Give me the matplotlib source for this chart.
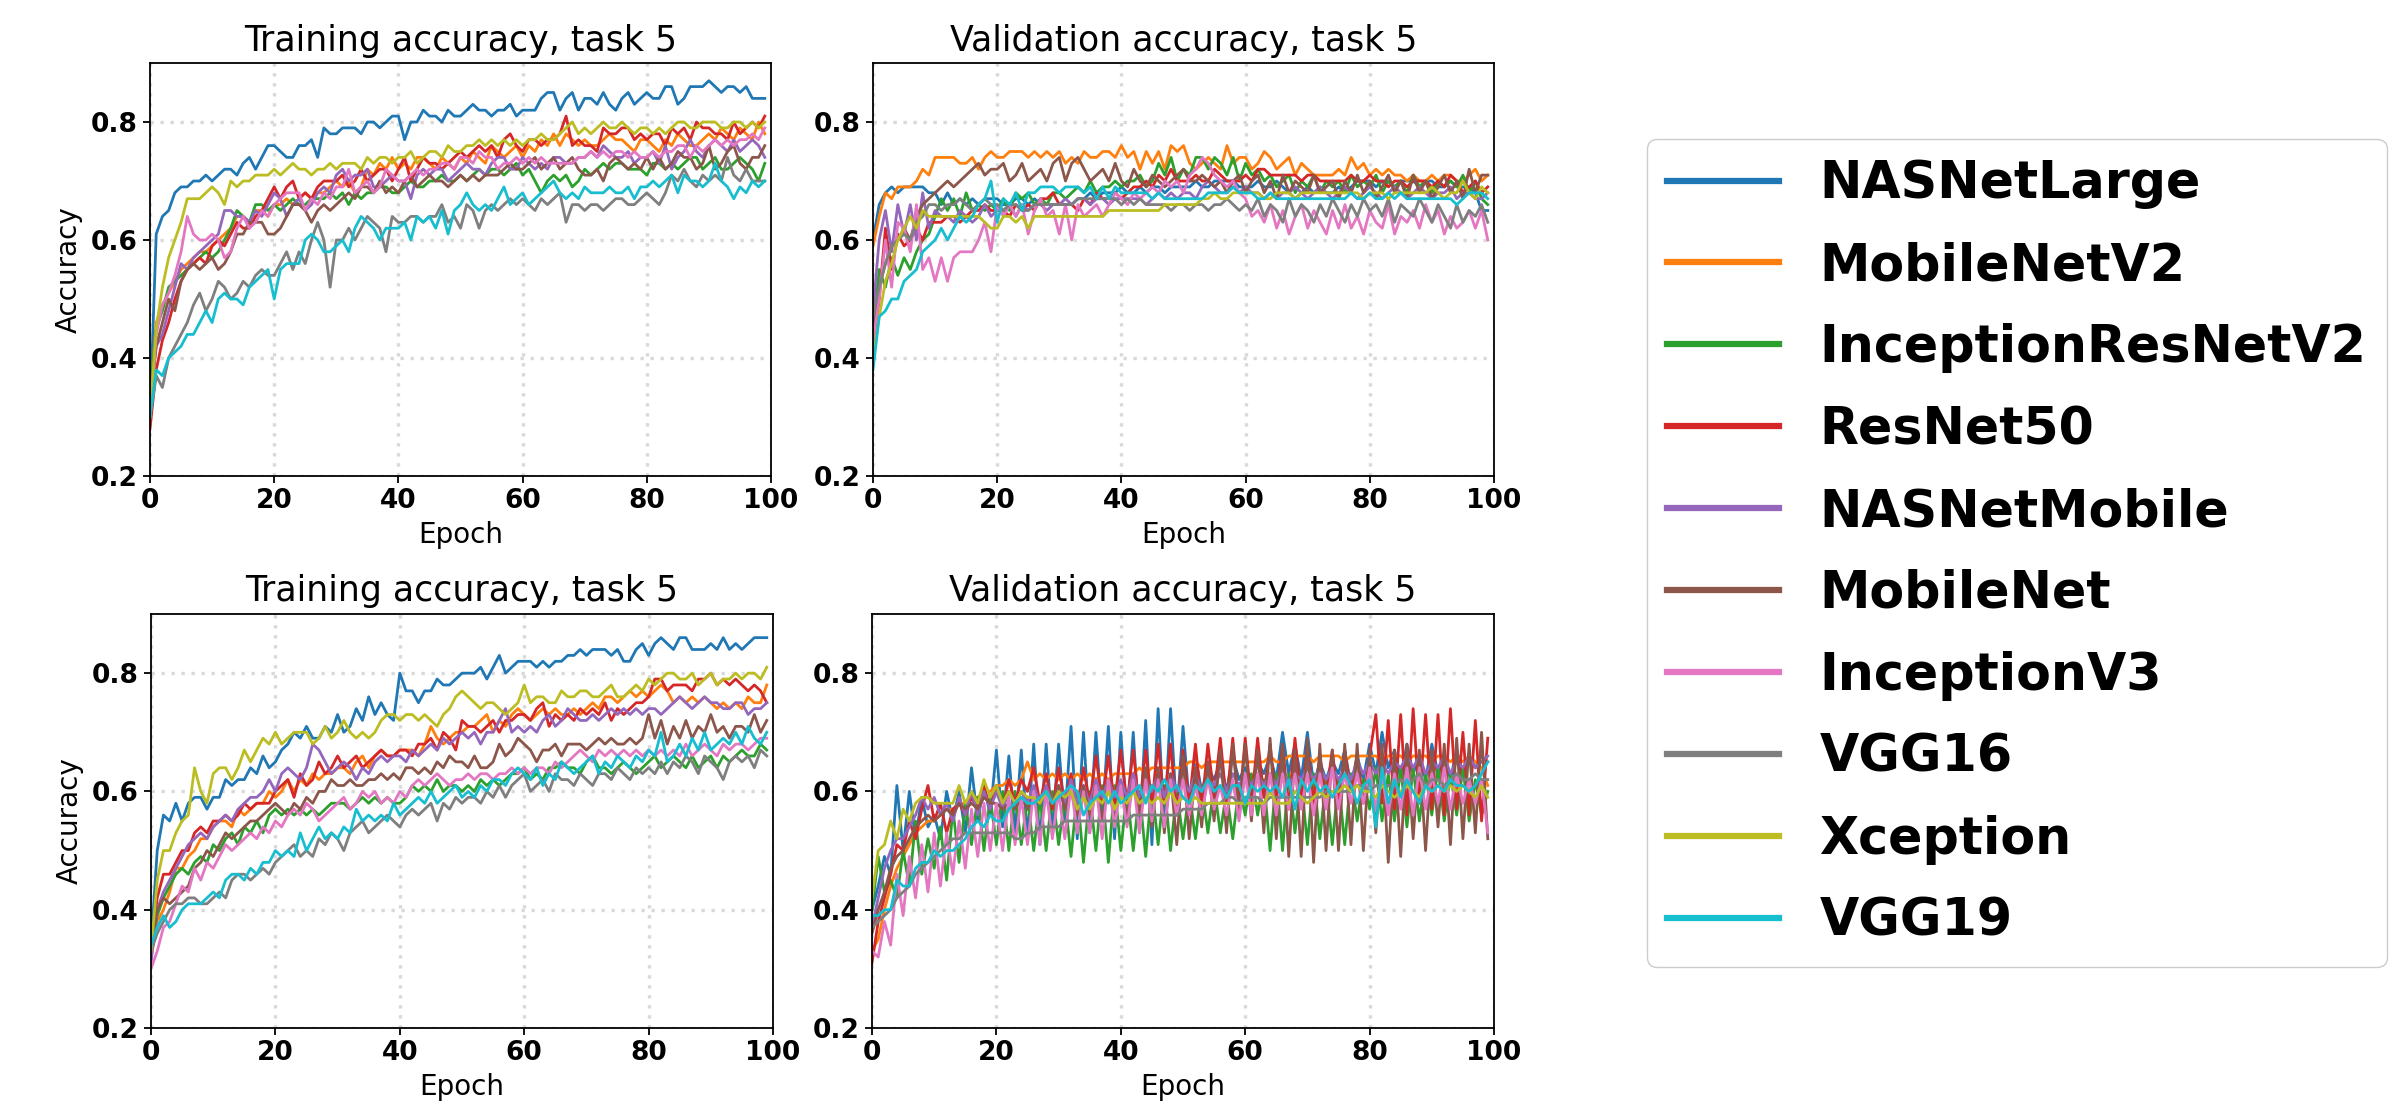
import numpy as np
import matplotlib
matplotlib.use("Agg")
import matplotlib.pyplot as plt

# ---------------- data (accuracy in percent, one value per epoch) ----------------
models = ["NASNetLarge", "MobileNetV2", "InceptionResNetV2", "ResNet50", "NASNetMobile",
          "MobileNet", "InceptionV3", "VGG16", "Xception", "VGG19"]
colors = ["#1f77b4", "#ff7f0e", "#2ca02c", "#d62728", "#9467bd",
          "#8c564b", "#e377c2", "#7f7f7f", "#bcbd22", "#17becf"]
titles = ["Training accuracy, task 5", "Validation accuracy, task 5",
          "Training accuracy, task 5", "Validation accuracy, task 5"]
yticks = [0.2, 0.4, 0.6, 0.8]
xticks = [0, 20, 40, 60, 80, 100]

# ---- panel 1: training (top) ----
t1_nasnetlarge = [30,61,64,65,68,69,69,70,70,71,70,71,72,72,71,73,74,72,74,76,
                  76,75,74,74,76,76,77,74,79,78,78,79,79,79,78,80,80,79,80,81,
                  81,77,80,80,82,81,81,80,82,81,81,82,83,82,82,81,82,82,83,81,
                  82,82,82,84,85,85,82,84,85,82,84,84,83,85,83,82,84,85,83,84,
                  85,84,84,86,86,83,84,86,86,86,87,86,85,86,86,85,86,84,84,84]
t1_mobilenetv2 = [33,46,49,51,53,55,56,57,58,58,59,60,61,62,64,64,63,65,65,64,
                  66,66,67,66,67,68,67,68,68,69,70,69,70,68,69,72,71,73,72,74,
                  72,73,72,74,74,73,72,74,73,72,74,73,75,74,73,76,75,74,75,76,
                  74,76,75,77,76,78,76,78,77,76,77,76,76,77,78,77,77,76,75,77,
                  77,76,75,77,76,78,77,76,76,77,78,77,79,78,77,79,78,77,80,78]
t1_incresv2 = [34,45,48,52,53,54,55,56,57,58,57,58,60,62,65,64,63,66,66,65,
               66,65,66,67,66,66,67,67,67,68,67,68,66,68,67,68,68,69,69,68,
               68,69,70,69,69,70,70,71,70,70,71,70,71,72,71,72,72,71,72,73,
               71,72,70,68,70,71,70,71,69,70,72,71,72,73,72,73,73,72,72,72,
               71,73,73,72,73,72,73,74,74,72,73,74,72,72,73,74,73,72,70,73]
t1_resnet50 = [28,38,43,46,50,53,55,56,57,56,59,60,59,61,63,62,62,64,65,67,
               69,67,69,70,67,68,67,69,70,70,70,71,69,70,72,70,71,72,72,70,
               72,74,70,72,74,73,73,72,73,74,75,74,75,76,75,76,74,77,78,76,
               75,77,77,76,77,77,78,81,76,77,76,76,75,79,78,78,79,79,77,78,
               77,78,78,76,79,78,79,77,80,79,79,78,78,77,80,78,79,80,79,81]
t1_nasnetmobile = [32,42,44,48,52,56,55,57,58,59,60,61,65,65,64,64,63,65,64,66,
                   68,67,64,66,67,65,66,68,69,68,71,72,70,71,71,72,69,69,70,71,
                   70,70,67,71,72,71,72,72,70,71,72,73,72,72,71,73,74,74,72,72,
                   74,73,72,73,72,74,74,73,73,74,74,75,74,76,75,74,74,75,73,74,
                   74,75,73,76,72,74,75,77,75,74,76,77,76,75,77,75,76,77,76,74]
t1_mobilenet = [33,42,46,50,48,53,55,56,55,56,57,55,56,58,61,61,63,63,63,61,
                61,62,64,66,66,65,63,65,66,65,66,67,68,67,69,69,68,70,68,69,
                68,70,71,69,70,71,70,70,69,70,71,70,71,70,71,71,71,72,73,72,
                72,73,74,72,73,74,72,73,74,72,71,71,72,70,73,74,73,72,73,72,
                74,72,74,72,73,75,74,74,72,73,76,72,73,75,76,73,72,74,74,76]
t1_inceptionv3 = [30,44,49,51,54,58,64,61,60,60,61,60,57,58,62,64,62,63,65,64,
                  66,67,68,68,68,65,67,66,68,67,69,69,72,68,69,70,68,69,72,71,
                  70,70,71,72,71,72,72,73,73,72,74,74,73,75,74,74,72,73,73,74,
                  73,74,73,74,73,73,73,73,73,74,74,75,74,75,74,75,75,74,75,74,
                  74,75,74,75,75,76,76,74,76,75,76,77,76,77,76,77,77,78,77,79]
t1_vgg16 = [30,37,35,40,42,44,46,49,51,48,50,53,52,50,51,53,52,54,55,54,
            54,56,58,55,58,56,60,63,60,52,60,60,62,60,62,64,63,62,58,64,
            63,63,64,64,63,64,64,66,63,64,62,66,65,62,65,66,65,66,67,66,
            67,66,65,67,66,67,68,63,66,66,65,66,66,65,66,67,67,66,66,67,
            68,67,66,68,71,70,72,70,69,71,70,71,70,74,71,70,72,70,70,70]
t1_xception = [30,45,52,57,60,63,67,67,67,68,69,68,66,70,69,70,70,71,71,71,
               72,71,72,73,72,72,71,72,72,73,72,73,73,73,72,74,73,74,74,73,
               74,74,75,73,74,75,75,74,76,75,75,76,76,77,76,77,76,77,76,77,
               76,77,77,78,77,77,78,79,80,78,79,78,79,80,79,79,80,79,78,79,
               79,78,79,78,79,80,80,79,79,80,80,80,79,79,80,80,79,80,79,80]
t1_vgg19 = [30,38,37,40,41,42,44,44,46,48,46,50,51,50,50,49,52,53,54,55,
            50,55,56,56,56,60,61,60,58,58,59,60,58,62,64,63,62,60,62,62,
            62,63,60,64,63,64,62,65,61,65,66,68,66,65,66,65,67,69,66,67,
            68,66,67,68,69,70,68,67,68,67,69,68,68,68,69,68,68,69,67,69,
            69,70,69,70,71,68,71,70,70,69,70,73,70,69,67,69,68,70,69,70]

# ---- panel 2: validation (top) ----
v1_nasnetlarge = [60,66,68,69,68,69,69,69,69,68,68,66,68,66,67,66,67,66,67,67,
                  67,66,66,67,67,66,67,66,66,66,66,66,66,67,67,68,67,68,68,68,
                  69,68,68,69,68,69,69,68,69,69,69,69,70,69,69,70,70,70,70,69,
                  69,69,70,69,69,70,69,68,67,68,69,68,69,68,68,69,68,69,70,70,
                  70,69,70,70,69,70,70,70,69,70,70,69,69,70,69,69,69,68,65,65]
v1_mobilenetv2 = [59,64,68,67,69,69,69,70,72,71,74,74,74,74,73,73,74,72,74,75,
                  74,74,75,75,75,74,75,74,75,74,75,73,74,73,75,74,74,75,75,74,
                  76,74,75,72,75,73,75,72,76,75,76,73,72,73,74,73,72,76,73,74,
                  74,72,73,75,74,72,73,74,71,73,72,71,71,71,71,72,71,74,72,73,
                  71,72,71,72,71,71,70,71,70,70,71,70,71,71,70,70,71,72,70,71]
v1_incresv2 = [45,55,52,57,54,57,55,58,60,61,64,67,65,67,64,68,65,66,65,66,
               65,67,65,68,67,68,66,67,66,68,68,67,68,69,68,70,68,69,69,70,
               69,70,70,71,69,70,73,71,74,70,72,71,74,74,72,74,73,71,74,70,
               73,71,72,70,71,69,70,71,68,70,69,71,68,70,69,70,68,71,69,70,
               69,71,68,70,69,70,68,71,69,70,68,70,69,70,69,71,68,70,67,66]
v1_resnet50 = [42,50,62,55,61,59,60,62,60,63,63,63,64,64,63,64,65,65,66,65,
               65,65,64,66,65,66,65,67,67,68,66,66,66,65,67,66,68,67,67,68,
               67,68,69,69,70,69,71,70,72,70,70,70,71,70,70,72,71,70,70,70,
               71,70,72,72,71,71,71,71,71,70,71,71,70,70,70,70,70,71,70,70,
               71,70,70,69,70,70,69,70,70,70,69,70,69,71,70,68,69,70,68,69]
v1_nasnetmobile = [48,60,65,58,66,61,66,60,68,62,65,64,64,63,65,64,63,64,66,64,
                   65,65,66,64,66,65,66,66,65,66,66,67,66,67,67,66,67,67,66,67,
                   67,67,67,67,66,67,68,67,68,67,68,68,67,69,70,69,68,68,69,68,
                   69,68,68,67,68,67,68,68,69,68,67,68,69,68,67,68,69,68,67,68,
                   69,68,67,68,69,68,67,68,69,68,67,68,68,69,67,68,68,67,67,68]
v1_mobilenet = [45,52,56,59,60,62,60,64,66,67,68,69,70,69,70,71,72,73,71,72,
                72,73,70,71,73,70,71,72,70,73,74,70,73,74,72,70,71,72,70,73,
                70,69,72,70,69,71,70,69,70,71,72,70,70,71,70,69,70,68,70,71,
                68,70,71,68,70,67,71,68,70,69,68,71,68,69,70,67,70,68,71,68,
                70,67,69,71,68,70,67,71,68,70,67,69,71,68,70,67,72,68,71,71]
v1_inceptionv3 = [43,50,60,52,63,62,58,66,55,57,53,57,53,57,58,58,58,60,63,58,
                  66,64,66,64,66,61,65,67,64,65,61,66,60,66,64,65,66,64,66,68,
                  67,66,68,67,68,69,68,70,69,70,68,71,72,74,73,71,70,69,70,68,
                  67,64,65,63,66,62,65,61,64,66,62,65,63,61,65,62,66,62,64,61,
                  65,63,62,66,61,64,63,65,62,66,63,65,61,64,62,63,65,62,65,60]
v1_vgg16 = [47,52,56,59,60,61,60,63,64,66,66,65,66,66,67,66,65,66,67,66,
            66,65,66,66,65,65,66,66,66,66,66,66,66,67,67,67,67,67,67,67,
            66,67,66,67,66,66,66,66,65,66,66,65,66,66,65,66,66,67,66,65,
            66,65,67,64,66,65,63,67,64,66,65,63,66,64,67,65,63,66,64,67,
            65,66,64,67,63,66,65,64,67,65,63,66,64,62,66,63,65,64,66,63]
v1_xception = [40,47,53,56,60,62,64,62,65,64,64,64,64,64,64,64,64,64,63,62,
               62,64,64,63,64,62,64,64,64,64,64,64,64,64,64,64,64,64,65,65,
               65,65,65,65,65,65,65,66,66,66,66,66,66,67,67,68,67,67,68,68,
               68,68,68,67,67,68,68,68,67,68,68,68,68,68,68,68,68,68,68,67,
               68,68,68,67,68,68,68,68,68,68,69,68,67,68,68,70,68,67,69,68]
v1_vgg19 = [38,47,48,50,50,53,54,55,58,59,60,62,60,62,64,63,64,66,67,70,
            63,67,66,68,65,68,68,69,69,69,68,69,69,69,68,69,67,69,67,69,
            68,68,68,68,68,67,68,67,67,67,67,67,67,67,68,68,68,68,69,68,
            68,68,67,67,68,67,67,67,67,67,67,67,67,67,67,67,67,68,67,67,
            68,67,67,68,67,68,67,67,67,67,67,67,67,67,66,67,68,68,68,67]

# ---- panel 3: training (bottom) ----
t2_nasnetlarge = [34,50,56,55,58,55,58,59,59,57,59,59,62,61,62,62,64,63,66,64,
                  65,67,68,70,69,71,69,69,71,70,73,70,71,74,72,76,73,75,73,72,
                  80,77,77,75,77,77,79,78,78,79,80,80,80,81,79,81,83,80,81,82,
                  82,82,81,82,81,82,82,83,83,84,83,84,84,84,83,84,82,82,84,85,
                  83,85,86,85,84,86,86,84,84,84,85,84,86,84,85,84,85,86,86,86]
t2_mobilenetv2 = [32,38,40,43,47,47,49,50,52,52,54,55,55,54,57,56,57,58,58,60,
                  59,60,62,60,62,61,63,62,63,63,64,64,63,65,66,64,66,67,66,66,
                  67,67,67,66,68,71,69,68,69,70,70,71,71,72,73,70,72,71,73,74,
                  73,72,73,74,73,74,73,73,74,73,74,75,74,76,76,75,76,77,76,77,
                  76,77,78,77,75,76,75,76,75,76,75,74,75,74,75,74,76,75,75,78]
t2_incresv2 = [33,39,42,44,46,47,46,48,49,48,51,50,52,53,51,54,53,55,53,56,
               57,56,57,56,57,56,57,56,57,58,58,58,57,58,59,58,59,58,59,58,
               58,59,61,60,61,60,62,60,61,61,60,61,60,62,61,62,61,62,63,63,
               64,62,63,62,64,64,65,64,64,63,65,66,64,64,63,64,65,64,63,64,
               65,66,64,65,66,65,64,66,64,65,66,64,66,65,66,67,66,66,68,67]
t2_resnet50 = [33,42,46,46,48,50,50,53,54,53,55,55,56,55,56,58,57,58,58,58,
               60,61,62,59,63,61,62,65,63,64,66,64,65,66,64,65,66,67,66,66,
               67,67,66,68,68,69,67,70,69,67,72,71,71,70,71,72,70,72,72,73,
               73,72,74,75,71,73,72,73,72,74,73,74,73,75,72,74,73,74,75,75,
               76,79,79,77,78,78,78,77,79,79,80,78,79,78,79,78,77,78,77,75]
t2_nasnetmobile = [31,40,43,45,47,49,51,52,53,52,54,55,56,55,57,58,59,59,60,62,
                   60,63,64,63,62,64,68,67,65,63,64,65,64,62,64,63,65,66,65,66,
                   66,65,67,66,67,68,67,69,68,69,70,69,70,68,70,70,72,74,70,71,
                   70,71,70,72,73,71,72,74,73,72,72,73,72,73,74,73,74,73,74,73,
                   74,74,73,74,75,76,75,74,75,76,75,75,74,74,75,75,73,74,74,75]
t2_mobilenet = [33,40,42,41,42,43,44,47,48,50,49,51,53,52,53,54,55,55,56,57,
                58,57,56,58,57,59,58,60,60,62,61,61,62,61,61,62,62,63,62,63,
                62,64,64,63,64,63,65,64,66,65,65,64,66,64,64,65,68,66,67,69,
                68,67,65,67,67,68,66,68,68,68,67,68,69,68,69,68,68,69,68,69,
                73,69,72,68,71,69,72,69,71,70,73,70,71,69,71,71,70,73,70,72]
t2_inceptionv3 = [30,33,37,38,41,44,43,47,45,48,47,49,51,50,51,52,53,52,54,53,
                  55,54,56,57,56,58,57,55,56,57,58,59,57,58,60,59,60,58,59,58,
                  60,59,61,62,61,62,63,62,61,62,62,63,62,63,63,62,63,63,64,63,
                  64,63,64,64,63,65,64,65,66,67,66,65,67,66,67,66,67,66,67,66,
                  67,66,67,66,67,66,68,66,67,68,67,66,68,67,68,68,67,68,69,69]
t2_vgg16 = [33,36,38,40,41,41,42,42,41,41,42,43,42,45,46,46,45,46,47,46,
            48,49,50,51,49,50,49,52,51,53,52,50,53,54,55,53,54,55,56,55,
            54,56,57,56,57,58,55,58,57,59,58,59,59,58,60,59,61,59,61,62,
            63,60,61,62,60,63,62,62,61,63,62,61,63,63,62,64,63,62,64,63,
            64,63,65,63,65,64,66,65,63,66,65,64,62,65,66,65,66,64,67,66]
t2_xception = [33,45,50,50,53,55,56,64,60,58,63,64,64,62,64,67,65,67,69,68,
               70,68,69,70,70,70,68,69,71,69,70,72,70,69,70,69,70,72,73,73,
               72,73,73,72,73,72,71,73,74,76,77,76,75,74,75,75,74,73,74,75,
               78,75,76,76,75,75,77,76,76,77,77,76,76,77,78,76,76,77,78,77,
               79,78,79,80,80,79,79,80,78,79,80,78,79,79,80,79,80,80,79,81]
t2_vgg19 = [34,37,39,37,38,40,41,41,41,42,43,42,45,46,46,45,47,46,48,48,
            50,49,50,49,53,50,52,54,52,53,52,54,53,57,55,56,55,56,55,58,
            56,57,58,59,58,60,58,59,60,61,59,60,59,61,60,62,62,61,63,64,
            63,62,64,61,63,62,65,64,63,64,65,66,63,65,64,66,65,64,66,65,
            67,66,70,65,66,68,66,69,67,70,67,68,69,68,70,68,71,69,68,70]

# ---- panel 4: validation (bottom) ----
v2_nasnetlarge = [40,44,49,46,61,50,60,52,59,54,56,52,60,55,60,53,64,55,61,56,
                  67,54,66,53,67,52,68,51,68,53,68,55,71,52,70,53,70,55,71,52,
                  70,55,70,53,72,51,74,54,74,56,71,58,66,60,64,62,65,60,66,62,
                  64,61,65,63,66,62,70,63,68,62,70,61,65,62,65,63,67,61,66,62,
                  68,63,70,64,67,62,68,63,66,62,68,63,66,62,67,63,66,64,66,65]
v2_mobilenetv2 = [33,35,40,44,47,49,51,53,54,55,55,56,57,57,58,58,59,59,60,60,
                  61,61,62,61,62,65,62,63,62,63,62,63,62,63,62,63,62,63,62,63,
                  63,63,63,64,63,64,64,64,64,64,64,65,65,64,65,65,65,65,65,65,
                  65,65,65,65,66,65,65,66,66,66,66,65,66,66,66,66,65,66,66,66,
                  66,66,65,66,66,66,65,66,66,66,65,66,66,65,66,65,66,65,64,61]
v2_incresv2 = [40,49,43,45,42,50,44,55,46,52,47,54,45,57,48,58,51,59,50,59,
               51,60,50,60,51,59,50,59,50,60,51,59,49,60,48,60,50,61,48,61,
               50,60,50,60,49,61,51,61,50,60,52,60,52,61,53,61,53,60,52,61,
               56,63,56,62,50,63,50,63,53,62,51,63,52,62,51,62,51,63,55,62,
               57,64,55,63,55,64,54,64,55,63,56,64,55,63,56,64,55,62,56,60]
v2_resnet50 = [31,38,42,46,51,50,55,52,57,61,55,58,53,57,58,56,59,57,61,57,
               61,57,62,58,62,60,64,58,63,57,64,58,63,57,64,58,66,58,66,58,
               67,58,67,57,67,58,68,58,68,56,67,58,68,57,68,59,69,58,69,57,
               69,58,69,59,68,58,68,57,69,58,68,58,66,59,67,58,67,60,66,58,
               66,73,58,72,57,73,56,74,58,73,57,73,56,74,57,70,56,72,55,69]
v2_nasnetmobile = [37,42,47,50,52,52,54,56,59,57,59,56,58,55,59,56,60,56,60,57,
                   60,57,60,58,60,58,61,58,61,58,61,58,62,58,61,58,62,59,62,59,
                   62,59,63,59,62,60,63,59,63,60,62,60,63,60,62,61,63,60,63,61,
                   63,61,63,61,63,61,64,61,63,62,64,62,64,62,64,62,64,62,65,63,
                   65,63,65,63,65,64,66,64,66,63,65,64,66,63,65,64,66,64,65,66]
v2_mobilenet = [36,40,43,47,49,50,52,54,55,56,55,56,57,56,58,57,58,57,59,58,
                58,57,58,57,59,57,59,58,60,58,61,57,60,56,61,56,61,55,62,55,
                61,56,62,56,64,54,64,53,63,51,66,52,64,54,65,55,67,53,68,56,
                68,55,67,53,69,52,68,49,67,49,69,48,68,50,67,50,68,51,68,50,
                67,53,68,48,67,49,68,52,67,50,67,54,68,51,69,52,68,53,70,52]
v2_inceptionv3 = [33,32,38,34,46,39,49,42,51,43,53,44,53,46,55,47,57,49,58,50,
                  58,50,59,51,59,51,60,51,60,52,60,52,61,53,60,53,61,52,62,54,
                  61,54,62,53,62,55,62,54,62,56,62,56,61,56,62,57,61,56,62,55,
                  63,56,63,56,63,56,63,57,63,57,63,56,63,57,64,57,63,58,63,58,
                  64,57,63,56,63,57,64,56,64,57,63,58,64,57,63,58,62,58,62,53]
v2_vgg16 = [37,38,39,40,42,43,44,46,47,48,49,50,51,52,52,53,53,53,53,53,
            53,53,53,52,52,53,53,54,54,54,54,55,55,55,55,55,55,55,55,55,
            55,55,56,56,56,56,56,56,56,56,57,57,57,57,58,58,58,59,59,58,
            59,59,59,58,59,59,59,59,59,59,59,59,59,60,60,60,60,60,61,61,
            60,61,61,61,61,62,61,62,63,61,62,62,61,62,63,62,62,63,62,62]
v2_xception = [42,50,51,55,52,57,55,58,59,59,58,58,58,58,61,58,60,58,62,59,
               61,58,60,58,60,59,59,58,60,58,60,59,60,57,59,57,59,58,60,57,
               59,58,60,58,59,58,59,58,60,58,59,58,59,58,58,58,58,58,58,58,
               58,58,58,58,60,58,58,58,60,59,58,59,60,59,60,60,61,60,61,60,
               60,59,61,60,59,60,61,60,59,61,60,61,60,61,60,61,60,59,61,59]
v2_vgg19 = [39,39,40,40,45,44,44,47,48,48,50,49,50,50,51,52,54,55,54,56,
            55,55,57,58,59,58,58,59,60,58,59,60,61,60,56,58,59,60,58,60,
            58,59,60,61,58,61,60,62,60,61,59,58,61,60,62,60,61,59,61,61,
            58,61,60,61,60,61,59,62,57,62,60,62,60,61,59,61,63,61,58,61,
            62,54,64,58,62,59,62,60,58,61,60,61,60,62,61,61,60,61,63,65]

panels = [
    [t1_nasnetlarge, t1_mobilenetv2, t1_incresv2, t1_resnet50, t1_nasnetmobile,
     t1_mobilenet, t1_inceptionv3, t1_vgg16, t1_xception, t1_vgg19],
    [v1_nasnetlarge, v1_mobilenetv2, v1_incresv2, v1_resnet50, v1_nasnetmobile,
     v1_mobilenet, v1_inceptionv3, v1_vgg16, v1_xception, v1_vgg19],
    [t2_nasnetlarge, t2_mobilenetv2, t2_incresv2, t2_resnet50, t2_nasnetmobile,
     t2_mobilenet, t2_inceptionv3, t2_vgg16, t2_xception, t2_vgg19],
    [v2_nasnetlarge, v2_mobilenetv2, v2_incresv2, v2_resnet50, v2_nasnetmobile,
     v2_mobilenet, v2_inceptionv3, v2_vgg16, v2_xception, v2_vgg19],
]

# ---------------- figure ----------------
W, H = 2393, 1104
fig = plt.figure(figsize=(W / 100, H / 100), dpi=100)
plt.rcParams["font.family"] = ["DejaVu Sans"]

# axes boxes in pixels: (left, top, right, bottom)
boxes = [(150, 63, 771, 476), (873, 63, 1494, 476),
         (151, 614, 773, 1028), (872, 614, 1494, 1028)]

handles = None
for i, (box, series) in enumerate(zip(boxes, panels)):
    l, t, r, b = box
    ax = fig.add_axes([l / W, 1 - b / H, (r - l) / W, (b - t) / H])
    lines = []
    for name, col, vals in zip(models, colors, series):
        y = np.array(vals) / 100.0
        ln, = ax.plot(np.arange(len(y)), y, color=col, lw=2.0, label=name)
        lines.append(ln)
    if handles is None:
        handles = lines
    ax.set_xlim(0, 100)
    ax.set_ylim(0.2, 0.9)
    ax.set_xticks(xticks)
    ax.set_yticks(yticks)
    ax.set_xticklabels([str(v) for v in xticks], fontweight="bold", fontsize=19)
    ax.set_yticklabels([f"{v:.1f}" for v in yticks], fontweight="bold", fontsize=19)
    ax.tick_params(length=5, width=1.3, pad=4)
    ax.grid(True, linestyle=(0, (1, 2)), linewidth=2.4, color="#d9d9d9")
    ax.set_axisbelow(True)
    for sp in ax.spines.values():
        sp.set_linewidth(1.3)
    ax.set_title(titles[i], fontsize=25, pad=9)
    ax.set_xlabel("Epoch", fontsize=20, labelpad=5)
    if i % 2 == 0:
        ax.set_ylabel("Accuracy", fontsize=20, labelpad=6)

leg = fig.legend(handles, models, loc="upper left",
                 bbox_to_anchor=(1647 / W, 1 - 139 / H), borderaxespad=0,
                 prop={"weight": "bold", "size": 36.5}, handlelength=2.2,
                 handletextpad=0.8, labelspacing=0.63, borderpad=0.4,
                 fancybox=True, edgecolor="#cccccc", framealpha=1.0)
for ln in leg.get_lines():
    ln.set_linewidth(4.5)

fig.savefig("out.png", dpi=100)
